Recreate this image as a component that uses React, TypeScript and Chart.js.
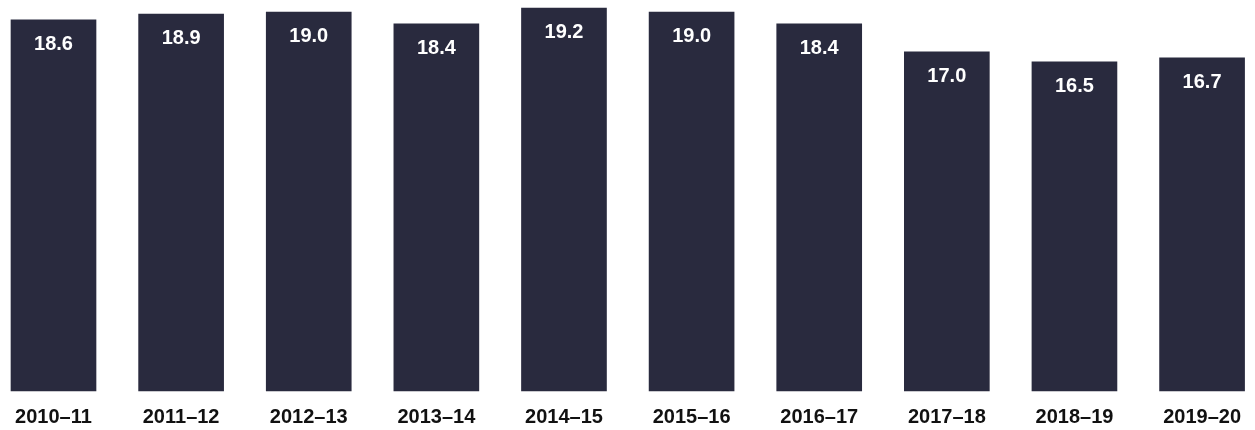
import React, { useEffect, useRef } from "react";
import { Chart, registerables } from "chart.js";

Chart.register(...registerables);

const categories: string[] = [
  "2010–11",
  "2011–12",
  "2012–13",
  "2013–14",
  "2014–15",
  "2015–16",
  "2016–17",
  "2017–18",
  "2018–19",
  "2019–20",
];

const values: number[] = [18.6, 18.9, 19.0, 18.4, 19.2, 19.0, 18.4, 17.0, 16.5, 16.7];

const BAR_COLOR = "#292a3e";
const FONT = "'Liberation Sans', Arial, Helvetica, sans-serif";

const valueLabelPlugin = {
  id: "valueLabels",
  afterDatasetsDraw(chart: any) {
    const ctx = chart.ctx;
    const meta = chart.getDatasetMeta(0);
    ctx.save();
    ctx.fillStyle = "#ffffff";
    ctx.font = `bold 20px ${FONT}`;
    ctx.textAlign = "center";
    ctx.textBaseline = "middle";
    meta.data.forEach((bar: any, i: number) => {
      const v = chart.data.datasets[0].data[i] as number;
      ctx.fillText(v.toFixed(1), bar.x, bar.y + 25);
    });
    ctx.restore();
  },
};

export default function App() {
  const canvasRef = useRef<HTMLCanvasElement | null>(null);

  useEffect(() => {
    if (!canvasRef.current) return;
    const chart = new Chart(canvasRef.current, {
      type: "bar",
      data: {
        labels: categories,
        datasets: [
          {
            data: values,
            backgroundColor: BAR_COLOR,
            borderWidth: 0,
            barThickness: 85,
            clip: false as any,
          },
        ],
      },
      options: {
        animation: false,
        responsive: false,
        devicePixelRatio: 1,
        layout: { padding: { left: 53.5, right: 50.8, top: 0, bottom: 0 } },
        plugins: {
          legend: { display: false },
          tooltip: { enabled: false },
          title: { display: false },
        },
        scales: {
          x: {
            offset: false,
            grid: { display: false, drawTicks: false },
            border: { display: false },
            afterFit: (scale: any) => {
              scale.height = 39;
            },
            ticks: {
              color: "#111111",
              font: { family: FONT, size: 20, weight: "bold" },
              padding: 14,
              maxRotation: 0,
              minRotation: 0,
              autoSkip: false,
            },
          },
          y: {
            display: false,
            min: 0,
            max: 19.6,
            grid: { display: false },
          },
        },
      },
      plugins: [valueLabelPlugin],
    });
    return () => chart.destroy();
  }, []);

  return (
    <div style={{ position: "fixed", left: 0, top: 0, width: 1255, height: 430, background: "#fff" }}>
      <canvas ref={canvasRef} width={1255} height={430} style={{ display: "block" }} />
    </div>
  );
}
